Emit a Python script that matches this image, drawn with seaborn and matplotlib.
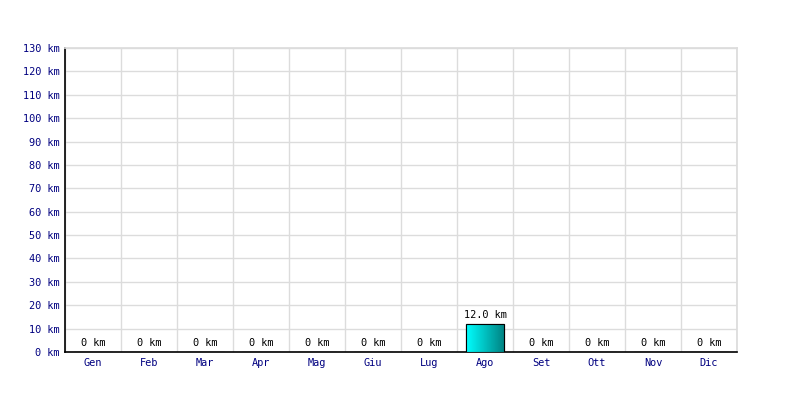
import matplotlib
matplotlib.use("Agg")
import matplotlib.pyplot as plt
import seaborn as sns
import numpy as np
import pandas as pd
from matplotlib.colors import LinearSegmentedColormap

months = ["Gen", "Feb", "Mar", "Apr", "Mag", "Giu", "Lug", "Ago", "Set", "Ott", "Nov", "Dic"]
km = [0, 0, 0, 0, 0, 0, 0, 12.0, 0, 0, 0, 0]
yticks = list(range(0, 131, 10))

sns.set_theme(style="white")
plt.rcParams['font.family'] = ['DejaVu Sans Mono']
FS = 7.4

df = pd.DataFrame({"month": months, "km": km})
fig = plt.figure(figsize=(8, 4), dpi=100)
ax = fig.add_axes([65/800, 48/400, 672/800, 304/400])
sns.barplot(data=df, x="month", y="km", ax=ax, width=0.68, color="#00cccc",
            edgecolor="#000000", linewidth=0.8, zorder=3)

cmap = LinearSegmentedColormap.from_list("g", ["#00ffff", "#008080"])
grad = np.linspace(0, 1, 256).reshape(1, -1)
for p in ax.patches:
    h = p.get_height()
    if h > 0:
        x0 = p.get_x(); w = p.get_width()
        im = ax.imshow(grad, cmap=cmap, aspect="auto", extent=[x0, x0 + w, 0, h], zorder=3.5)
        im.set_clip_path(p)
        ax.add_patch(plt.Rectangle((x0, 0), w, h, fill=False, edgecolor="#000000", lw=0.8, zorder=4))

ax.set_xlim(-0.5, 11.5)
ax.set_ylim(0, 130)
ax.set_yticks(yticks)
ax.set_yticklabels([f"{v} km" for v in yticks], color="#000080", fontsize=FS)
ax.set_xticks(range(12))
ax.set_xticklabels(months, color="#000080", fontsize=FS)
ax.tick_params(axis="both", length=0, pad=4)
ax.set_xticks(np.arange(-0.5, 12, 1), minor=True)
ax.grid(False)
ax.grid(True, which="minor", axis="x", color="#dcdcdc", lw=1, zorder=0)
ax.grid(True, which="major", axis="y", color="#dcdcdc", lw=1, zorder=0)
ax.set_xlabel("")
ax.set_ylabel("")
for s in ["top", "right"]:
    ax.spines[s].set_color("#dcdcdc")
for s in ["left", "bottom"]:
    ax.spines[s].set_color("#000000")
    ax.spines[s].set_linewidth(1.2)

for i, v in enumerate(km):
    lbl = f"{v:.1f} km" if v > 0 else "0 km"
    ax.annotate(lbl, (i, v), xytext=(0, 3), textcoords="offset points",
                ha="center", va="bottom", fontsize=FS, color="#000000")

fig.savefig("out.png", dpi=100)
